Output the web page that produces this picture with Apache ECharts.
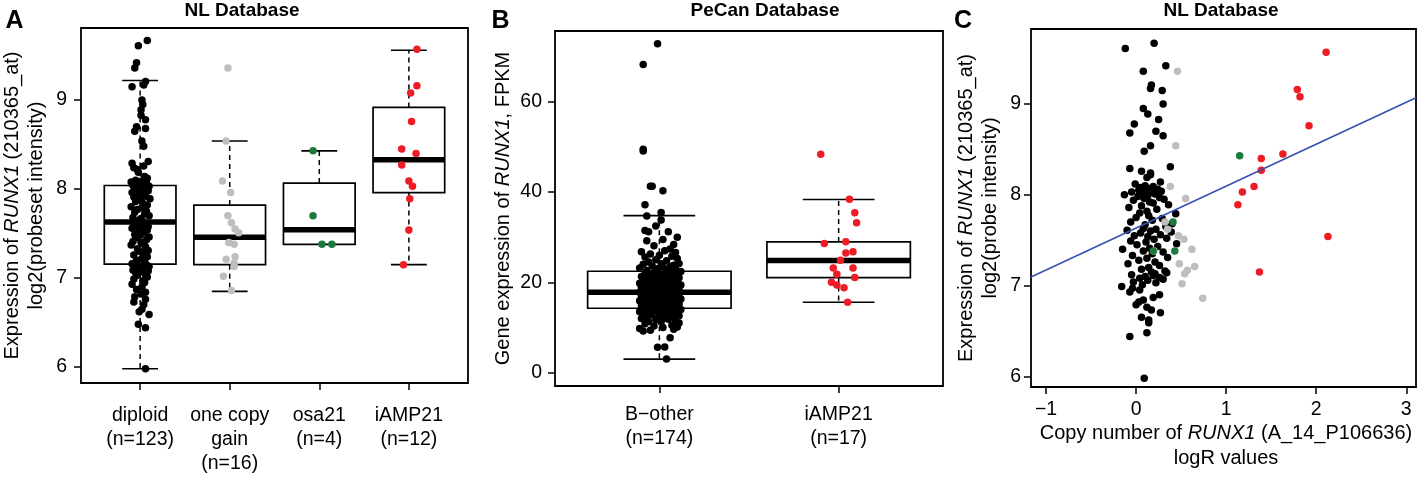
<!DOCTYPE html>
<html>
<head>
<meta charset="utf-8">
<script src="https://cdn.jsdelivr.net/npm/echarts@6/dist/echarts.min.js"></script>
<style>html,body{margin:0;padding:0;background:#fff}#c{width:1420px;height:477px}</style>
</head>
<body>
<div id="c"></div>
<script>
// ---------- Panel A : NL database, expression by group ----------
const catsA = ['diploid\n(n=123)', 'one copy\ngain\n(n=16)', 'osa21\n(n=4)', 'iAMP21\n(n=12)'];
const yTicksA = [6, 7, 8, 9];
const diploidExpr = [
9.67,9.61,9.42,9.36,9.21,9.17,9.15,9.00,8.95,8.89,8.83,8.78,8.70,8.68,8.65,8.54,8.48,8.31,8.29,8.26,8.24,8.22,8.19,8.14,8.12,8.10,8.09,8.08,8.07,8.06,8.05,
8.04,8.04,8.03,8.03,8.02,8.01,8.00,7.99,7.98,7.97,7.96,7.95,7.94,7.92,7.91,7.89,7.88,7.86,7.84,7.82,7.80,7.79,7.77,7.75,7.74,7.72,7.70,7.68,7.67,7.65,
7.63,
7.62,7.61,7.60,7.59,7.58,7.56,7.55,7.54,7.52,7.51,7.49,7.48,7.46,7.45,7.43,7.41,7.40,7.38,7.37,7.35,7.33,7.31,7.30,7.28,7.26,7.24,7.22,7.20,7.18,7.16,
7.15,7.14,7.13,7.12,7.11,7.10,7.09,7.08,7.07,7.06,7.04,7.03,7.01,6.99,6.97,6.95,6.93,6.90,6.87,6.84,6.82,6.79,6.76,6.73,6.70,6.65,6.62,6.59,6.48,6.44,5.98];
const diploidJitter = [
0.08,-0.02,-0.04,-0.06,0.06,0.04,-0.09,0.02,0.03,0.01,0.01,0.06,-0.04,0.06,-0.06,0.02,0.04,0.09,-0.09,0.04,-0.07,-0.03,-0.02,0.05,0.08,-0.05,0.02,-0.10,0.07,0.00,-0.03,
0.05,-0.08,0.10,-0.01,0.03,-0.06,0.07,-0.04,0.09,0.01,-0.09,0.04,-0.02,0.06,-0.07,0.11,0.00,-0.05,0.03,0.08,-0.10,0.02,-0.03,0.07,-0.06,0.05,0.10,-0.08,0.01,-0.01,
0.04,
-0.07,0.06,0.02,-0.04,0.09,-0.09,0.03,0.08,-0.02,0.05,-0.06,0.00,0.10,-0.05,0.07,-0.08,0.01,0.04,-0.10,0.06,-0.03,0.09,-0.01,0.03,-0.07,0.08,0.02,-0.04,0.05,-0.09,
0.07,-0.02,0.10,0.01,-0.06,0.04,-0.08,0.09,0.00,-0.05,0.06,-0.03,0.08,-0.07,0.03,0.05,-0.09,0.02,-0.04,0.06,0.01,-0.06,0.06,-0.07,0.04,0.02,-0.01,0.10,-0.02,0.06,0.06];
const gainExpr = [9.36,8.54,8.09,7.96,7.70,7.62,7.55,7.51,7.40,7.38,7.24,7.21,7.17,7.13,7.02,6.86];
const gainJitter = [-0.02,-0.04,-0.08,0.01,-0.02,0.02,0.06,0.10,-0.01,0.05,0.06,-0.04,0.05,0.05,-0.07,0.02];
const osaExpr = [8.43,7.70,7.38,7.38];
const osaJitter = [-0.07,-0.07,0.03,0.14];
const iampExpr = [9.57,9.16,9.08,8.76,8.45,8.40,8.27,8.09,8.03,7.89,7.54,7.15];
const iampJitter = [0.09,0.09,0.02,0.03,-0.08,0.08,-0.08,0.00,0.04,0.01,0.00,-0.06];
// box stats [lower whisker, Q1, median, Q3, upper whisker]
const boxStatsA = [[5.98,7.157,7.63,8.04,9.22],[6.85,7.15,7.457,7.82,8.54],[7.38,7.378,7.543,8.067,8.43],[7.15,7.96,8.33,8.917,9.56]];

// ---------- Panel B : PeCan database ----------
const catsB = ['B\u2212other\n(n=174)', 'iAMP21\n(n=17)'];
const yTicksB = [0, 20, 40, 60];
const bOtherFpkm = [
3.0,5.6,5.7,7.7,9.2,9.4,9.6,9.8,10.0,10.1,10.3,10.5,10.8,11.0,11.2,11.3,11.5,11.7,11.8,12.0,12.1,12.2,12.4,12.5,12.6,12.8,12.9,13.0,13.1,13.2,13.3,13.4,13.5,13.6,13.7,13.8,13.9,14.0,14.0,14.1,14.2,14.2,14.3,
14.4,14.5,14.6,14.7,14.8,14.9,15.0,15.1,15.2,15.3,15.4,15.5,15.6,15.7,15.8,15.9,16.0,16.1,16.2,16.3,16.4,16.5,16.6,16.7,16.8,16.9,17.0,17.0,17.1,17.2,17.3,17.3,17.4,17.5,17.5,17.6,17.6,17.7,17.7,17.8,17.8,17.8,17.8,
17.9,18.0,18.1,18.2,18.3,18.4,18.5,18.6,18.7,18.8,18.9,19.0,19.1,19.2,19.3,19.4,19.5,19.6,19.7,19.8,19.9,20.0,20.1,20.2,20.3,20.4,20.5,20.6,20.7,20.8,20.9,21.0,21.1,21.2,21.3,21.4,21.5,21.6,21.7,21.8,21.9,22.0,22.2,22.4,
22.6,22.8,23.0,23.1,23.2,23.4,23.5,23.6,23.8,24.0,24.1,24.2,24.5,24.8,25.0,25.3,25.6,25.8,26.0,26.3,26.6,26.8,27.0,27.4,28.1,28.4,29.2,29.5,30.0,31.2,31.2,31.5,32.5,33.8,34.7,35.5,37.2,40.3,41.3,41.3,49.1,49.5,68.3,72.9];
const bOtherJitter = [
0.04,-0.01,0.03,0.06,-0.09,-0.05,0.08,-0.11,0.02,0.10,
-0.03,0.07,-0.08,0.11,0.01,-0.06,0.09,-0.02,0.05,-0.10,
0.03,0.08,-0.07,0.00,0.11,-0.04,0.06,-0.09,0.02,0.10,
-0.05,0.07,-0.11,0.04,-0.01,0.09,-0.07,0.01,0.12,-0.03,
0.05,-0.08,0.08,-0.02,0.10,-0.06,0.03,-0.10,0.07,0.00,
-0.04,0.11,-0.09,0.06,-0.01,0.09,-0.07,0.04,-0.11,0.02,
0.08,-0.05,0.12,-0.02,0.05,-0.08,0.10,0.01,-0.06,0.07,
-0.10,0.03,0.09,-0.03,0.06,-0.09,0.00,0.11,-0.05,0.04,
-0.07,0.08,-0.01,0.10,-0.11,0.05,-0.04,0.07,0.02,-0.08,
0.11,-0.02,0.06,-0.06,0.09,0.00,-0.10,0.04,-0.03,0.08,
-0.08,0.12,-0.05,0.02,0.07,-0.11,0.05,-0.01,0.10,-0.07,
0.03,-0.04,0.09,-0.09,0.01,0.06,-0.06,0.11,-0.02,0.04,
-0.10,0.08,0.00,-0.05,0.10,-0.08,0.03,0.07,-0.03,0.12,
-0.07,0.05,-0.01,0.09,-0.11,0.02,0.06,-0.04,0.08,-0.09,
0.01,0.11,-0.06,0.04,-0.02,0.10,-0.08,0.07,0.00,-0.05,
0.09,-0.10,0.03,0.06,-0.03,0.08,-0.07,0.02,0.10,-0.06,
0.05,-0.08,-0.02,0.01,-0.07,0.01,-0.08,0.02,-0.05,-0.04,
-0.09,-0.09,-0.09,-0.01];
const iampFpkm = [48.4,38.4,35.4,33.2,28.6,29.0,26.5,26.8,24.9,23.2,23.2,21.8,21.1,20.0,19.4,18.8,15.6];
const iampFpkmJitter = [-0.10,0.06,0.09,0.10,-0.08,0.04,0.04,0.08,0.01,-0.03,0.08,-0.01,0.09,-0.04,-0.01,0.03,0.05];
const boxStatsB = [[3.0,14.26,17.8,22.46,34.8],[15.59,21.06,24.83,28.96,38.36]];

// ---------- Panel C : copy number (logR) vs expression ----------
const xTicksC = [-1, 0, 1, 2, 3];
const yTicksC = [6, 7, 8, 9];
const diploidCopyNumber = [
0.20,-0.12,0.33,0.08,0.17,0.16,0.29,0.30,0.08,0.13,0.25,-0.02,0.22,-0.07,0.30,0.16,0.09,0.38,-0.07,0.06,0.16,0.16,0.12,0.27,-0.01,0.10,0.19,0.05,0.14,0.24,0.03,
0.11,0.28,-0.05,0.17,0.07,0.21,-0.13,0.13,0.02,0.26,0.09,0.31,-0.03,0.15,0.19,0.36,0.06,-0.08,0.23,0.12,0.04,0.44,0.14,0.00,0.29,0.18,-0.06,0.40,0.10,0.33,
0.08,
0.22,-0.10,0.16,0.39,0.05,0.27,-0.02,0.13,0.34,0.20,-0.06,0.11,0.45,0.01,0.24,0.15,-0.15,0.08,0.30,0.18,-0.04,0.35,0.12,0.03,0.21,-0.09,0.26,0.14,0.06,0.32,
0.17,0.34,0.21,-0.05,0.19,0.10,0.26,0.04,0.30,0.13,-0.03,0.22,0.07,-0.16,-0.04,0.04,-0.07,0.26,0.19,0.08,0.03,0.00,0.12,0.17,0.27,0.06,0.14,0.14,0.12,-0.07,0.09];
const gainCopyNumber = [0.46,0.44,0.38,0.55,0.32,0.35,0.47,0.53,0.62,0.20,0.48,0.65,0.57,0.54,0.51,0.74];
const osaCopyNumber = [1.15,0.41,0.43,0.19];
const iampCopyNumber = [2.11,1.79,1.82,1.92,1.63,1.39,1.39,1.31,1.18,1.13,2.13,1.37];
const fitLineX = [-1.167, 3.108];
const fitLineY = [7.094, 9.069];

// ---------- styling ----------
const F = "'Liberation Sans', Arial, Helvetica, sans-serif";
const BLACK = '#000000', GREY = '#bebebe', GREEN = '#1e7a3c', RED = '#ee1c25', BLUE = '#3a50b0';
const PT = 7.5;

function jittered(vals, jit, center) { return vals.map((v, i) => [center + jit[i], v]); }
function paired(xs, ys) { return ys.map((v, i) => [xs[i], v]); }
function boxData(stats) { return stats.map((s, i) => [i + 1].concat(s)); }

function boxRender(params, api) {
  const x = api.value(0), lo = api.value(1), q1 = api.value(2), md = api.value(3), q3 = api.value(4), hi = api.value(5);
  const c = (a, b) => api.coord([a, b]);
  const bw = 0.4, sw = 0.2;
  const tl = c(x - bw, q3), br = c(x + bw, q1);
  const line = (p1, p2, style) => ({type: 'line', shape: {x1: p1[0], y1: p1[1], x2: p2[0], y2: p2[1]}, style: style});
  const solid = {stroke: '#000', lineWidth: 1.7};
  const dash = {stroke: '#000', lineWidth: 1.5, lineDash: [5, 4]};
  return {type: 'group', children: [
    line(c(x, q3), c(x, hi), dash),
    line(c(x, q1), c(x, lo), dash),
    line(c(x - sw, hi), c(x + sw, hi), solid),
    line(c(x - sw, lo), c(x + sw, lo), solid),
    {type: 'rect', shape: {x: tl[0], y: tl[1], width: br[0] - tl[0], height: br[1] - tl[1]}, style: {fill: '#fff', stroke: '#000', lineWidth: 1.7}},
    line(c(x - bw, md), c(x + bw, md), {stroke: '#000', lineWidth: 5.5})
  ]};
}

function valAxis(grid, min, max, ticks, margin, formatter) {
  return {
    type: 'value', gridIndex: grid, min: min, max: max,
    splitLine: {show: false},
    axisLine: {show: false, onZero: false},
    axisTick: {show: true, inside: false, length: 7, customValues: ticks, lineStyle: {color: '#000', width: 1.5}},
    axisLabel: {customValues: ticks, margin: margin, color: '#000', fontSize: 19.5, fontFamily: F, lineHeight: 24, formatter: formatter}
  };
}

function txt(x, y, text, opts) {
  return {type: 'text', x: x, y: y, rotation: (opts && opts.rot) || 0, silent: true,
    style: Object.assign({text: text, fill: '#000', fontSize: 20, fontFamily: F, align: 'center', verticalAlign: 'middle',
      rich: {i: {fontStyle: 'italic', fontSize: 20, fontFamily: F, fill: '#000'}}}, (opts && opts.style) || {})};
}

const chart = echarts.init(document.getElementById('c'), null, {renderer: 'canvas'});
const R90 = Math.PI / 2;

chart.setOption({
  animation: false,
  backgroundColor: '#fff',
  grid: [
    {left: 81, top: 28, width: 387, height: 355, show: true, borderColor: '#000', borderWidth: 1.8, backgroundColor: 'transparent'},
    {left: 555, top: 31, width: 388, height: 355, show: true, borderColor: '#000', borderWidth: 1.8, backgroundColor: 'transparent'},
    {left: 1031, top: 29, width: 385, height: 358, show: true, borderColor: '#000', borderWidth: 1.8, backgroundColor: 'transparent'}
  ],
  xAxis: [
    valAxis(0, 0.34, 4.66, [1, 2, 3, 4], 21, v => catsA[Math.round(v) - 1]),
    valAxis(1, 0.418, 2.582, [1, 2], 16.5, v => catsB[Math.round(v) - 1]),
    valAxis(2, -1.167, 3.108, xTicksC, 11, v => (v < 0 ? '\u2212' + Math.abs(v) : String(v)))
  ],
  yAxis: [
    valAxis(0, 5.82, 9.81, yTicksA, 14, v => String(v)),
    valAxis(1, -2.97, 75.7, yTicksB, 13, v => String(v)),
    valAxis(2, 5.883, 9.826, yTicksC, 10, v => String(v))
  ],
  series: [
    {type: 'custom', xAxisIndex: 0, yAxisIndex: 0, renderItem: boxRender, data: boxData(boxStatsA), encode: {x: 0, y: [1, 2, 3, 4, 5]}, z: 2, silent: true},
    {type: 'scatter', xAxisIndex: 0, yAxisIndex: 0, data: jittered(diploidExpr, diploidJitter, 1), symbolSize: PT, itemStyle: {color: BLACK, opacity: 1}, z: 3},
    {type: 'scatter', xAxisIndex: 0, yAxisIndex: 0, data: jittered(gainExpr, gainJitter, 2), symbolSize: PT, itemStyle: {color: GREY, opacity: 1}, z: 3},
    {type: 'scatter', xAxisIndex: 0, yAxisIndex: 0, data: jittered(osaExpr, osaJitter, 3), symbolSize: PT, itemStyle: {color: GREEN, opacity: 1}, z: 3},
    {type: 'scatter', xAxisIndex: 0, yAxisIndex: 0, data: jittered(iampExpr, iampJitter, 4), symbolSize: PT, itemStyle: {color: RED, opacity: 1}, z: 3},

    {type: 'custom', xAxisIndex: 1, yAxisIndex: 1, renderItem: boxRender, data: boxData(boxStatsB), encode: {x: 0, y: [1, 2, 3, 4, 5]}, z: 2, silent: true},
    {type: 'scatter', xAxisIndex: 1, yAxisIndex: 1, data: jittered(bOtherFpkm, bOtherJitter, 1), symbolSize: PT, itemStyle: {color: BLACK, opacity: 1}, z: 3},
    {type: 'scatter', xAxisIndex: 1, yAxisIndex: 1, data: jittered(iampFpkm, iampFpkmJitter, 2), symbolSize: PT, itemStyle: {color: RED, opacity: 1}, z: 3},

    {type: 'scatter', xAxisIndex: 2, yAxisIndex: 2, data: paired(diploidCopyNumber, diploidExpr), symbolSize: PT, itemStyle: {color: BLACK, opacity: 1}, z: 3},
    {type: 'scatter', xAxisIndex: 2, yAxisIndex: 2, data: paired(gainCopyNumber, gainExpr), symbolSize: PT, itemStyle: {color: GREY, opacity: 1}, z: 3},
    {type: 'scatter', xAxisIndex: 2, yAxisIndex: 2, data: paired(osaCopyNumber, osaExpr), symbolSize: PT, itemStyle: {color: GREEN, opacity: 1}, z: 3},
    {type: 'scatter', xAxisIndex: 2, yAxisIndex: 2, data: paired(iampCopyNumber, iampExpr), symbolSize: PT, itemStyle: {color: RED, opacity: 1}, z: 3},
    {type: 'line', xAxisIndex: 2, yAxisIndex: 2, data: paired(fitLineX, fitLineY), symbol: 'none', lineStyle: {color: BLUE, width: 1.6}, z: 4, silent: true}
  ],
  graphic: [
    txt(14.5, 21, 'A', {style: {fontSize: 25, fontWeight: 'bold'}}),
    txt(500.5, 21, 'B', {style: {fontSize: 25, fontWeight: 'bold'}}),
    txt(963, 21, 'C', {style: {fontSize: 25, fontWeight: 'bold'}}),
    txt(242, 11, 'NL Database', {style: {fontSize: 19, fontWeight: 'bold'}}),
    txt(765, 11, 'PeCan Database', {style: {fontSize: 19, fontWeight: 'bold'}}),
    txt(1221, 11, 'NL Database', {style: {fontSize: 19, fontWeight: 'bold'}}),
    txt(12.5, 205.5, 'Expression of {i|RUNX1} (210365_at)', {rot: R90}),
    txt(36, 205.5, 'log2(probeset intensity)', {rot: R90}),
    txt(503, 208.5, 'Gene expression of {i|RUNX1}, FPKM', {rot: R90}),
    txt(966, 208, 'Expression of {i|RUNX1} (210365_at)', {rot: R90}),
    txt(990, 208, 'log2(probe intensity)', {rot: R90}),
    txt(1226, 433, 'Copy number of {i|RUNX1} (A_14_P106636)', {}),
    txt(1226, 458, 'logR values', {})
  ]
});
</script>
</body>
</html>
